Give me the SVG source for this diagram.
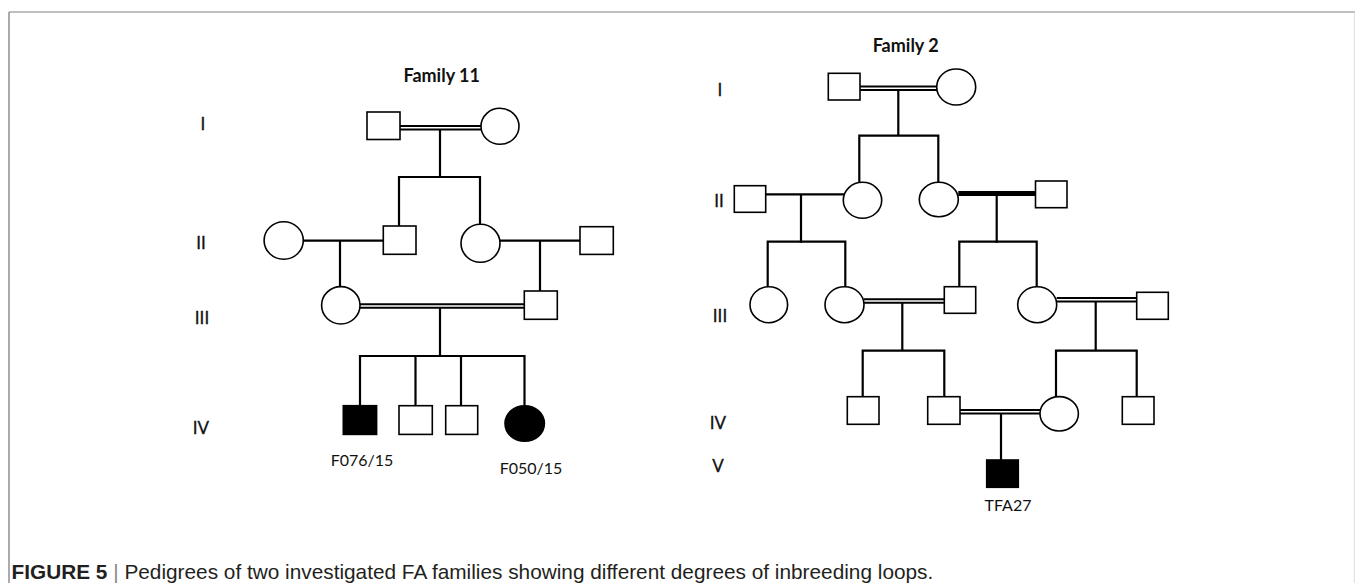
<svg xmlns="http://www.w3.org/2000/svg" width="1355" height="583" viewBox="0 0 1355 583">
<style>
.sh{fill:#fff;stroke:#000;stroke-width:1.6}
.af{fill:#000;stroke:#000;stroke-width:1.6}
.ln{stroke:#000;stroke-width:2.2;fill:none;stroke-linecap:square}
.dbl{stroke:#000;stroke-width:5.6;fill:none}
.gap{stroke:#fff;stroke-width:1.6;fill:none}
.thk{stroke:#000;stroke-width:5;fill:none}
.ttl{font-family:Lato,"Liberation Sans",sans-serif;font-weight:bold;font-size:18px;fill:#111;text-anchor:middle}
.gen{font-family:Lato,"Liberation Sans",sans-serif;font-size:17px;fill:#111;text-anchor:middle;stroke:#111;stroke-width:0.3}
.lab{font-family:Lato,"Liberation Sans",sans-serif;font-size:16px;fill:#111;text-anchor:middle}
.cap{font-family:"Liberation Sans",Arial,sans-serif;font-size:20.8px;fill:#231f20}
</style>
<rect width="1355" height="583" fill="#fff"/>
<g id="frame">
<line x1="9" y1="12" x2="1355" y2="12" stroke="#a8a8a8" stroke-width="1.6"/>
<line x1="9" y1="12" x2="9" y2="583" stroke="#888" stroke-width="1.4"/>
<line x1="1354.3" y1="12" x2="1354.3" y2="583" stroke="#ddd" stroke-width="1"/>
</g>
<g id="titles">
<text class="ttl" x="441.7" y="81.5">Family 11</text>
<text class="ttl" x="905.7" y="52.3">Family 2</text>
</g>
<g id="generations">
<text class="gen" x="203" y="130">I</text>
<text class="gen" x="201" y="249">II</text>
<text class="gen" x="202" y="324">III</text>
<text class="gen" x="201" y="434">IV</text>
<text class="gen" x="720" y="96">I</text>
<text class="gen" x="719" y="207">II</text>
<text class="gen" x="720" y="322">III</text>
<text class="gen" x="718" y="429">IV</text>
<text class="gen" x="718" y="472">V</text>
</g>
<g id="connectors">
<!-- Family 11 -->
<line class="dbl" x1="400" y1="127.8" x2="481" y2="127.8"/>
<line class="gap" x1="400" y1="127.8" x2="481" y2="127.8"/>
<path class="ln" d="M440 130.6V177M399 226V177H480V224"/>
<path class="ln" d="M303.3 240.7H383.3M340 240.7V287"/>
<path class="ln" d="M500 240.7H580M540 240.7V291"/>
<line class="dbl" x1="360" y1="306" x2="524.3" y2="306"/>
<line class="gap" x1="360" y1="306" x2="524.3" y2="306"/>
<path class="ln" d="M440 308.8V356M360 405.7V356H524.5V405.7M415.5 356V405.7M461 356V405.7"/>
<!-- Family 2 -->
<line class="dbl" x1="860" y1="88.3" x2="937" y2="88.3"/>
<line class="gap" x1="860" y1="88.3" x2="937" y2="88.3"/>
<path class="ln" d="M898.3 91V135.7M859.3 182.3V135.7H938.3V182.3"/>
<path class="ln" d="M765.7 194.3H843.3M801 194.3V241.7"/>
<line class="thk" x1="958.3" y1="193.5" x2="1035.5" y2="193.5"/>
<path class="ln" d="M996.7 193.5V241.7"/>
<path class="ln" d="M767.7 286.7V241.7H845.3V286.7"/>
<path class="ln" d="M959.3 286.7V241.7H1036.7V286.7"/>
<line class="dbl" x1="864" y1="301" x2="944.3" y2="301"/>
<line class="gap" x1="864" y1="301" x2="944.3" y2="301"/>
<path class="ln" d="M902.3 303.8V350.7M862.7 396.7V350.7H944.3V396.7"/>
<line class="dbl" x1="1056.7" y1="299.7" x2="1136.7" y2="299.7"/>
<line class="gap" x1="1056.7" y1="299.7" x2="1136.7" y2="299.7"/>
<path class="ln" d="M1095.7 302.5V350.7M1056 396.7V350.7H1136.7V396.7"/>
<line class="dbl" x1="960" y1="411.7" x2="1040" y2="411.7"/>
<line class="gap" x1="960" y1="411.7" x2="1040" y2="411.7"/>
<path class="ln" d="M1001 414.5V460"/>
</g>
<g id="f11-I-1"><rect class="sh" x="367" y="112" width="33" height="27.5"/></g>
<g id="f11-I-2"><ellipse class="sh" cx="500" cy="126.3" rx="19" ry="18"/></g>
<g id="f11-II-1"><ellipse class="sh" cx="283.7" cy="240.5" rx="19.6" ry="18.8"/></g>
<g id="f11-II-2"><rect class="sh" x="383.3" y="226" width="32.7" height="28.3"/></g>
<g id="f11-II-3"><ellipse class="sh" cx="480.5" cy="243.3" rx="19.5" ry="19"/></g>
<g id="f11-II-4"><rect class="sh" x="580" y="226.7" width="33.3" height="27.7"/></g>
<g id="f11-III-1"><ellipse class="sh" cx="340.8" cy="305.3" rx="19.2" ry="18.7"/></g>
<g id="f11-III-2"><rect class="sh" x="524.3" y="291" width="33" height="28.3"/></g>
<g id="f11-IV-1"><rect class="af" x="343.3" y="405.7" width="33.3" height="28.7"/><text class="lab" x="362" y="466">F076/15</text></g>
<g id="f11-IV-2"><rect class="sh" x="399" y="405.7" width="33.3" height="28.7"/></g>
<g id="f11-IV-3"><rect class="sh" x="445.7" y="405.7" width="32" height="28.7"/></g>
<g id="f11-IV-4"><ellipse class="af" cx="524.7" cy="423.5" rx="19.7" ry="17.8"/><text class="lab" x="531" y="474">F050/15</text></g>
<g id="f2-I-1"><rect class="sh" x="828.3" y="73.3" width="31.7" height="26.7"/></g>
<g id="f2-I-2"><ellipse class="sh" cx="956.2" cy="87" rx="19.5" ry="18"/></g>
<g id="f2-II-1"><rect class="sh" x="734.3" y="185.7" width="31.4" height="26.6"/></g>
<g id="f2-II-2"><ellipse class="sh" cx="862.5" cy="200.3" rx="19.2" ry="18"/></g>
<g id="f2-II-3"><ellipse class="sh" cx="938.8" cy="199.5" rx="19.5" ry="17.2"/></g>
<g id="f2-II-4"><rect class="sh" x="1035.5" y="181" width="31.5" height="26.7"/></g>
<g id="f2-III-1"><ellipse class="sh" cx="768.8" cy="304.7" rx="18.8" ry="18"/></g>
<g id="f2-III-2"><ellipse class="sh" cx="844.5" cy="304.7" rx="19.5" ry="18"/></g>
<g id="f2-III-3"><rect class="sh" x="944.3" y="286.7" width="31.4" height="26.6"/></g>
<g id="f2-III-4"><ellipse class="sh" cx="1037.2" cy="304.7" rx="19.5" ry="18"/></g>
<g id="f2-III-5"><rect class="sh" x="1136.7" y="292.3" width="31.6" height="27"/></g>
<g id="f2-IV-1"><rect class="sh" x="847.3" y="396.7" width="31.7" height="27.6"/></g>
<g id="f2-IV-2"><rect class="sh" x="927.7" y="396.7" width="32.3" height="27.6"/></g>
<g id="f2-IV-3"><ellipse class="sh" cx="1059.2" cy="413.8" rx="19.2" ry="17.2"/></g>
<g id="f2-IV-4"><rect class="sh" x="1122.3" y="396.7" width="31.7" height="27.6"/></g>
<g id="f2-V-1"><rect class="af" x="986.7" y="460" width="31.6" height="27.3"/><text class="lab" x="1008" y="511">TFA27</text></g>
<g id="caption">
<text class="cap" x="11.5" y="578.5"><tspan font-weight="bold">FIGURE 5</tspan><tspan fill="#888"> | </tspan><tspan>Pedigrees of two investigated FA families showing different degrees of inbreeding loops.</tspan></text>
</g>
</svg>
